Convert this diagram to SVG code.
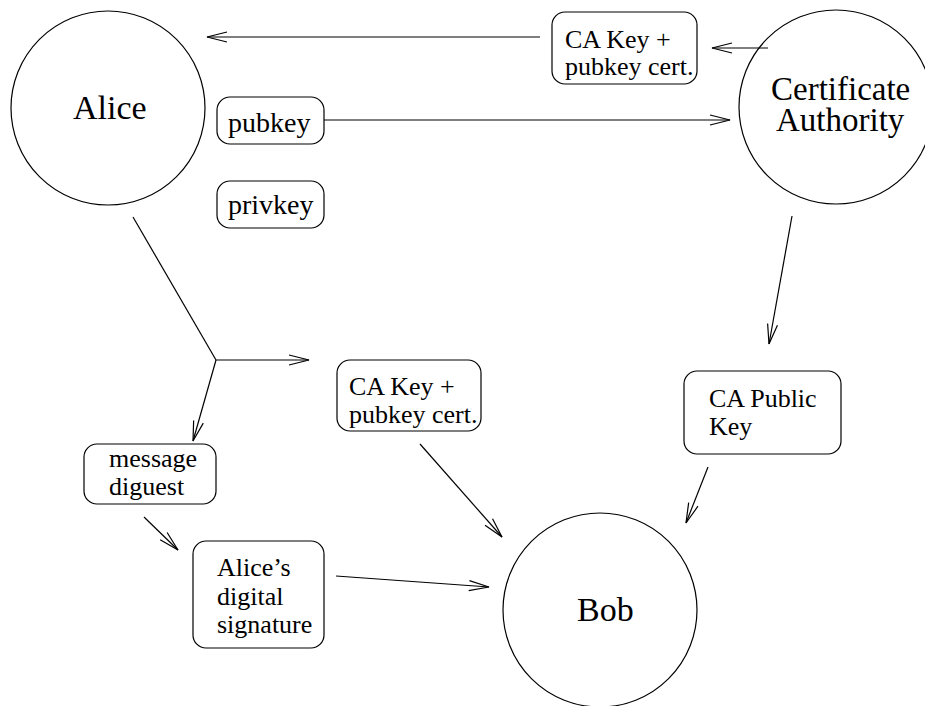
<svg xmlns="http://www.w3.org/2000/svg" width="925" height="706" viewBox="0 0 925 706">
  <style>
    .shape { fill: none; stroke: #000; stroke-width: 1.2; }
    .edge { fill: none; stroke: #000; stroke-width: 1.2; }
    .big { font-family: "Liberation Serif", "Times New Roman", serif; font-size: 34px; fill: #000; }
    .ca { font-family: "Liberation Serif", "Times New Roman", serif; font-size: 33px; fill: #000; }
    .key { font-family: "Liberation Serif", "Times New Roman", serif; font-size: 28px; fill: #000; }
    .small { font-family: "Liberation Serif", "Times New Roman", serif; font-size: 26px; fill: #000; }
  </style>
  <defs>
    <marker id="open-arrow" markerUnits="userSpaceOnUse" viewBox="-22 -7 24 14" markerWidth="24" markerHeight="14" refX="0" refY="0" orient="auto" overflow="visible">
      <path d="M -20 -5 L 0 0 L -20 5" fill="none" stroke="#000" stroke-width="1.2"/>
    </marker>
  </defs>
  <rect width="925" height="706" fill="#fff"/>

  <!-- connectors -->
  <g id="connectors">
    <line class="edge" x1="540" y1="37" x2="207" y2="37" marker-end="url(#open-arrow)"/>
    <line class="edge" x1="768" y1="48" x2="712" y2="48" marker-end="url(#open-arrow)"/>
    <line class="edge" x1="324" y1="120" x2="730" y2="120" marker-end="url(#open-arrow)"/>
    <line class="edge" x1="792" y1="216" x2="769" y2="344" marker-end="url(#open-arrow)"/>
    <line class="edge" x1="708" y1="467" x2="686" y2="523" marker-end="url(#open-arrow)"/>
    <polyline class="edge" points="133,217 216,360"/>
    <line class="edge" x1="216" y1="360" x2="309" y2="360" marker-end="url(#open-arrow)"/>
    <line class="edge" x1="216" y1="360" x2="193" y2="441" marker-end="url(#open-arrow)"/>
    <line class="edge" x1="144" y1="517" x2="178" y2="550" marker-end="url(#open-arrow)"/>
    <line class="edge" x1="420" y1="444" x2="502" y2="537" marker-end="url(#open-arrow)"/>
    <line class="edge" x1="336" y1="576" x2="489" y2="587" marker-end="url(#open-arrow)"/>
  </g>

  <!-- parties -->
  <g id="alice">
    <circle class="shape" cx="108" cy="108" r="97"/>
    <text class="big" x="73" y="119">Alice</text>
  </g>
  <g id="certificate-authority">
    <circle class="shape" cx="836" cy="107" r="97"/>
    <text class="ca" x="771" y="100">Certificate</text>
    <text class="ca" x="776" y="131">Authority</text>
  </g>
  <g id="bob">
    <circle class="shape" cx="600" cy="610" r="97"/>
    <text class="big" x="577" y="621">Bob</text>
  </g>

  <!-- key material -->
  <g id="pubkey">
    <rect class="shape" x="217" y="97" width="107" height="47" rx="13"/>
    <text class="key" x="228" y="132">pubkey</text>
  </g>
  <g id="privkey">
    <rect class="shape" x="217" y="181" width="107" height="47" rx="13"/>
    <text class="key" x="228" y="214">privkey</text>
  </g>
  <g id="ca-cert-top">
    <rect class="shape" x="552" y="12" width="145" height="72" rx="13"/>
    <text class="small" x="565" y="48">CA Key +</text>
    <text class="small" x="565" y="75">pubkey cert.</text>
  </g>
  <g id="ca-cert-middle">
    <rect class="shape" x="337" y="360" width="144" height="71" rx="13"/>
    <text class="small" x="349" y="395">CA Key +</text>
    <text class="small" x="349" y="423">pubkey cert.</text>
  </g>
  <g id="ca-public-key">
    <rect class="shape" x="684" y="371" width="157" height="83" rx="13"/>
    <text class="small" x="709" y="407">CA Public</text>
    <text class="small" x="709" y="435">Key</text>
  </g>
  <g id="message-digest">
    <rect class="shape" x="84" y="444" width="132" height="60" rx="13"/>
    <text class="small" x="109" y="467">message</text>
    <text class="small" x="109" y="495">diguest</text>
  </g>
  <g id="signature">
    <rect class="shape" x="193" y="541" width="131" height="107" rx="13"/>
    <text class="small" x="217" y="576">Alice’s</text>
    <text class="small" x="217" y="605">digital</text>
    <text class="small" x="217" y="633">signature</text>
  </g>
</svg>
